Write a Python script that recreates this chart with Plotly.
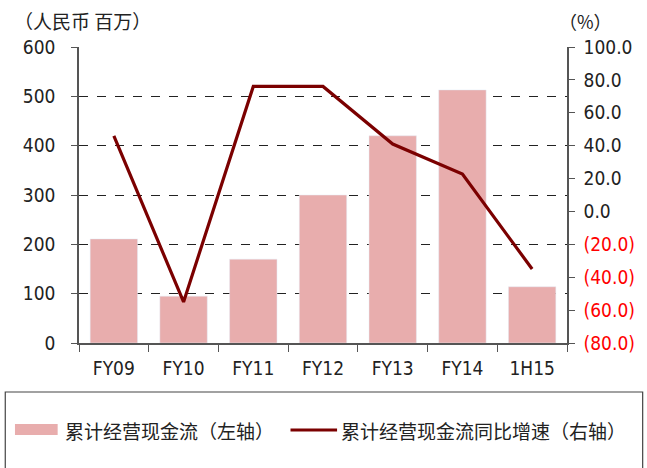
import plotly.graph_objects as go

categories = ["FY09", "FY10", "FY11", "FY12", "FY13", "FY14", "1H15"]
cash_flow = [211, 95, 170, 300, 420, 513, 114]
growth = [45.9, -55.0, 76.0, 76.0, 41.0, 22.7, -35.0]

left_ticks = [0, 100, 200, 300, 400, 500, 600]
right_ticks = [-80, -60, -40, -20, 0, 20, 40, 60, 80, 100]
right_labels = ["(80.0)", "(60.0)", "(40.0)", "(20.0)", "0.0", "20.0", "40.0", "60.0", "80.0", "100.0"]

bar_name = "累计经营现金流（左轴）"
line_name = "累计经营现金流同比增速（右轴）"

BAR_COLOR = "#E8ADAD"
LINE_COLOR = "#7B0000"
NUM_FONT = "DejaVu Sans Condensed, Liberation Sans Narrow, Roboto, sans-serif"
CJK_FONT = "Noto Sans CJK SC, sans-serif"

right_text = [
    (f'<span style="color:#FF0000">{t}</span>' if v < 0 else t)
    for v, t in zip(right_ticks, right_labels)
]

fig = go.Figure()
fig.add_trace(go.Bar(x=categories, y=cash_flow, marker_color=BAR_COLOR,
                     width=0.68, name=bar_name, showlegend=False))
fig.add_trace(go.Scatter(x=categories, y=growth, yaxis="y2", mode="lines",
                         line=dict(color=LINE_COLOR, width=3.2), name=line_name,
                         showlegend=False))

W, H = 647, 468
L, R, T, B = 79, 65, 47, 125
pw, ph = W - L - R, H - T - B

def px(x):
    return (x - L) / pw

def py(y):
    return (H - B - y) / ph

fig.update_layout(
    width=W, height=H,
    margin=dict(l=L, r=R, t=T, b=B),
    paper_bgcolor="white", plot_bgcolor="white",
    bargap=0.32,
    font=dict(family=NUM_FONT, size=17, color="#222222"),
    xaxis=dict(type="category", showline=True, linecolor="#555555", linewidth=1.5,
               ticks="outside", tickson="boundaries", ticklen=7, tickcolor="#555555",
               ticklabelstandoff=7,
               tickfont=dict(size=19, family=NUM_FONT, color="#222222"),
               showgrid=False, range=[-0.5, 6.5]),
    yaxis=dict(range=[0, 600], tickvals=left_ticks, showline=True, linecolor="#555555",
               linewidth=1.5, ticks="outside", ticklen=6, tickcolor="#555555",
               ticklabelstandoff=12,
               showgrid=True, gridcolor="#222222", griddash="dash", gridwidth=1.2,
               zeroline=False, tickfont=dict(size=19, family=NUM_FONT, color="#222222")),
    yaxis2=dict(range=[-80, 100], tickvals=right_ticks, ticktext=right_text,
                overlaying="y", side="right", showline=True, linecolor="#555555",
                linewidth=1.5, ticks="outside", ticklen=6, tickcolor="#555555",
                ticklabelstandoff=5,
                showgrid=False, zeroline=False,
                tickfont=dict(size=19, family=NUM_FONT, color="#222222")),
)

# axis unit labels
fig.add_annotation(text="（人民币 百万）", xref="paper", yref="paper",
                   x=px(10), y=py(21), xanchor="left", yanchor="middle",
                   showarrow=False, font=dict(family=CJK_FONT, size=19, color="#222222"))
fig.add_annotation(text="（%）", xref="paper", yref="paper",
                   x=px(572), y=py(21), xanchor="left", yanchor="middle",
                   showarrow=False, font=dict(family=CJK_FONT, size=18, color="#222222"))

# legend box and items
fig.add_shape(type="rect", xref="paper", yref="paper",
              x0=px(3), x1=px(660), y0=py(392), y1=py(480),
              line=dict(color="#444444", width=1.2), fillcolor="rgba(0,0,0,0)")
fig.add_shape(type="rect", xref="paper", yref="paper",
              x0=px(13), x1=px(57), y0=py(435), y1=py(424),
              line=dict(width=0), fillcolor=BAR_COLOR)
fig.add_annotation(text=bar_name, xref="paper", yref="paper",
                   x=px(62), y=py(430), xanchor="left", yanchor="middle",
                   showarrow=False, font=dict(family=CJK_FONT, size=19, color="#222222"))
fig.add_shape(type="line", xref="paper", yref="paper",
              x0=px(297), x1=px(345), y0=py(430), y1=py(430),
              line=dict(color=LINE_COLOR, width=3.2))
fig.add_annotation(text=line_name, xref="paper", yref="paper",
                   x=px(347), y=py(430), xanchor="left", yanchor="middle",
                   showarrow=False, font=dict(family=CJK_FONT, size=19, color="#222222"))

fig.write_html("out.html", config={"displayModeBar": False},
               post_script="document.body.style.margin='0';document.body.style.overflow='hidden';")
